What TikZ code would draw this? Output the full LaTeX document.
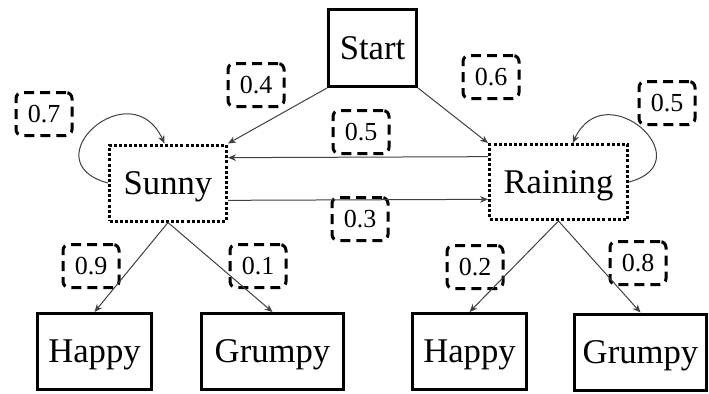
\documentclass[tikz,border=0pt]{standalone}
\usepackage{fontspec}
\setmainfont{Liberation Serif}
\usetikzlibrary{arrows.meta}

\begin{document}
\begin{tikzpicture}[x=0.75pt,y=-0.75pt,
  box/.style = {draw, line width=2.25pt, inner sep=0pt, minimum height=57pt,
                font=\fontsize{26}{26}\selectfont, text height=17pt, text depth=0pt},
  hid/.style = {box, dash pattern=on 2.25pt off 1.6pt},
  prob/.style = {draw, line width=2.25pt, dash pattern=on 7.5pt off 4.5pt, rounded corners=4.5pt,
                 inner sep=0pt, minimum width=42pt, minimum height=32.25pt,
                 font=\fontsize{19.5}{19.5}\selectfont, text height=13.3pt, text depth=0pt},
  edge/.style = {draw=black!75, line width=0.75pt, -{Stealth[length=6pt,width=5pt]}}]
    \useasboundingbox (0,0) rectangle (709,393);

    % states
    \node[box, minimum width=66pt, minimum height=57.75pt](start) at (372.5,48) {Start};
    \node[hid, minimum width=87.75pt](sunny) at (168,183) {Sunny};
    \node[hid, minimum width=103.5pt, minimum height=56.25pt](rain) at (558.5,182) {Raining};

    % observations
    \node[box, minimum width=85.5pt](happy1) at (94.5,351.5) {Happy};
    \node[box, minimum width=106.5pt](grumpy1) at (272.5,351.5) {Grumpy};
    \node[box, minimum width=85.5pt](happy2) at (469.5,351.5) {Happy};
    \node[box, minimum width=99pt](grumpy2) at (640.5,352) {Grumpy};

    % probabilities
    \node[prob](p04) at (256,85) {0.4};
    \node[prob](p06) at (491,77) {0.6};
    \node[prob](p07) at (44,114) {0.7};
    \node[prob](p05r) at (667,103) {0.5};
    \node[prob](p05m) at (361,132) {0.5};
    \node[prob](p03) at (360,219) {0.3};
    \node[prob](p09) at (91,266) {0.9};
    \node[prob](p01) at (258,266) {0.1};
    \node[prob](p02) at (475,267) {0.2};
    \node[prob](p08) at (638,263) {0.8};

    \draw[edge] (start.south west) -- (sunny.north east);
    \draw[edge] (start.south east) -- (rain.north west);
    \draw[edge] ([yshift=19pt]rain.west) -- ([yshift=19pt]sunny.east);
    \draw[edge] ([yshift=-13pt]sunny.east) -- ([yshift=-13pt]rain.west);
    \draw[edge] (sunny.west) to [out=165, in=115, looseness=3] (sunny.95);
    \draw[edge] (rain.east) to [out=15, in=65, looseness=2.9] (rain.70);

    \draw[edge] (sunny.south) -- (happy1.north);
    \draw[edge] (sunny.south) -- (grumpy1.north);
    \draw[edge] (rain.south) -- (happy2.north);
    \draw[edge] (rain.south) -- (grumpy2.north);
\end{tikzpicture}
\end{document}
